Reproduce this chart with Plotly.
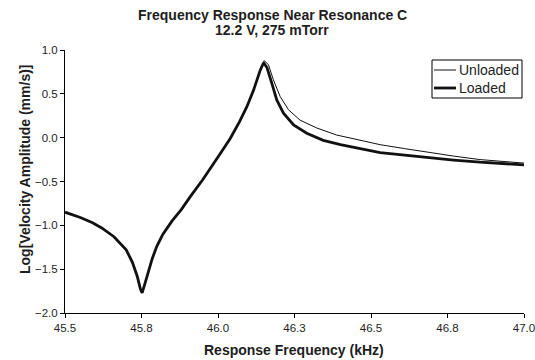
import plotly.graph_objects as go

# Frequencies (kHz) and Log[velocity amplitude]
freq_loaded = [45.50, 45.55, 45.59, 45.62, 45.66, 45.68, 45.70, 45.72, 45.736, 45.746,
               45.752, 45.760, 45.772, 45.785, 45.80, 45.82, 45.85, 45.88, 45.91, 45.95,
               46.00, 46.04, 46.07, 46.094, 46.116, 46.138, 46.149, 46.16, 46.176, 46.192,
               46.214, 46.247, 46.29, 46.344, 46.40, 46.464, 46.53, 46.61, 46.69, 46.77,
               46.856, 46.93, 47.0]
loaded = [-0.85, -0.91, -0.97, -1.03, -1.13, -1.20, -1.28, -1.42, -1.58, -1.72,
          -1.77, -1.68, -1.52, -1.38, -1.24, -1.10, -0.95, -0.82, -0.67, -0.48,
          -0.22, -0.01, 0.18, 0.35, 0.54, 0.77, 0.855, 0.80, 0.62, 0.43,
          0.28, 0.145, 0.05, -0.03, -0.08, -0.12, -0.17, -0.20, -0.23, -0.255,
          -0.28, -0.295, -0.31]

freq_unloaded = [45.50, 45.55, 45.59, 45.62, 45.66, 45.68, 45.70, 45.72, 45.736, 45.746,
                 45.752, 45.760, 45.772, 45.785, 45.80, 45.82, 45.85, 45.88, 45.91, 45.95,
                 46.00, 46.04, 46.07, 46.094, 46.116, 46.138, 46.151, 46.165, 46.181, 46.203,
                 46.23, 46.268, 46.323, 46.388, 46.464, 46.53, 46.61, 46.69, 46.77, 46.856,
                 46.93, 47.0]
unloaded = [-0.85, -0.91, -0.97, -1.03, -1.13, -1.20, -1.28, -1.42, -1.58, -1.72,
            -1.77, -1.68, -1.52, -1.38, -1.24, -1.10, -0.95, -0.82, -0.67, -0.48,
            -0.22, -0.01, 0.18, 0.35, 0.54, 0.77, 0.88, 0.83, 0.66, 0.47,
            0.32, 0.20, 0.11, 0.03, -0.03, -0.08, -0.125, -0.17, -0.21, -0.25,
            -0.27, -0.29]

x_tickvals = [45.5, 45.75, 46.0, 46.25, 46.5, 46.75, 47.0]
x_ticktext = ["45.5", "45.8", "46.0", "46.3", "46.5", "46.8", "47.0"]

series_names = ["Unloaded", "Loaded"]
series_widths = [1, 2.8]

FONT = "Arial, Liberation Sans, sans-serif"
TXT = "#1e1e1e"
W, H = 535, 360
ML, MR, MT, MB = 65, 11, 50, 47
PW, PH = W - ML - MR, H - MT - MB


def px_x(px):
    return (px - ML) / PW


def px_y(py):
    return (H - MB - py) / PH


fig = go.Figure()
fig.add_trace(go.Scatter(x=freq_unloaded, y=unloaded, mode="lines", name=series_names[0],
                         line=dict(color="#111111", width=series_widths[0])))
fig.add_trace(go.Scatter(x=freq_loaded, y=loaded, mode="lines", name=series_names[1],
                         line=dict(color="#111111", width=series_widths[1])))

# legend box drawn by hand to match the compact original
shapes = [dict(type="rect", xref="paper", yref="paper",
               x0=px_x(432), x1=px_x(522), y0=px_y(98), y1=px_y(60),
               line=dict(color="black", width=1), fillcolor="white", layer="above")]
annotations = []
for i, (name, wdt) in enumerate(zip(series_names, series_widths)):
    yy = px_y(70 + i * 18)
    shapes.append(dict(type="line", xref="paper", yref="paper",
                       x0=px_x(434), x1=px_x(456), y0=yy, y1=yy,
                       line=dict(color="#111111", width=wdt), layer="above"))
    annotations.append(dict(text=name, xref="paper", yref="paper", x=px_x(456.5), y=yy,
                            xanchor="left", yanchor="middle", showarrow=False,
                            font=dict(size=14, color=TXT)))

# title lines
annotations.append(dict(text="<b>Frequency Response Near Resonance C</b>",
                        xref="paper", yref="paper", x=px_x(272), y=px_y(15),
                        xanchor="center", yanchor="middle", showarrow=False,
                        font=dict(size=14, color=TXT)))
annotations.append(dict(text="<b>12.2 V, 275 mTorr</b>",
                        xref="paper", yref="paper", x=px_x(272), y=px_y(30),
                        xanchor="center", yanchor="middle", showarrow=False,
                        font=dict(size=14, color=TXT)))
# axis titles
annotations.append(dict(text="<b>Response Frequency (kHz)</b>",
                        xref="paper", yref="paper", x=px_x(294), y=px_y(350),
                        xanchor="center", yanchor="middle", showarrow=False,
                        font=dict(size=14, color=TXT)))
annotations.append(dict(text="<b>Log[Velocity Amplitude (mm/s)]</b>",
                        xref="paper", yref="paper", x=px_x(25), y=px_y(169),
                        xanchor="center", yanchor="middle", showarrow=False,
                        textangle=-90, font=dict(size=14, color=TXT)))

fig.update_layout(
    width=W, height=H,
    margin=dict(l=ML, r=MR, t=MT, b=MB),
    paper_bgcolor="white", plot_bgcolor="white",
    font=dict(family=FONT, color=TXT, size=11.5),
    showlegend=False,
    hovermode=False,
    shapes=shapes,
    annotations=annotations,
)
fig.update_xaxes(range=[45.5, 47.0], tickvals=x_tickvals, ticktext=x_ticktext,
                 showline=True, linecolor="black", linewidth=1,
                 ticks="outside", ticklen=4, tickcolor="black", automargin=False,
                 ticklabeloverflow="allow",
                 showgrid=False, zeroline=False, tickfont=dict(size=11.5))
fig.update_yaxes(range=[-2.0, 1.0], dtick=0.5, tick0=0, tickformat=".1f",
                 showline=True, linecolor="black", linewidth=1,
                 ticks="outside", ticklen=4, tickcolor="black", automargin=False,
                 ticklabeloverflow="allow",
                 showgrid=False, zeroline=False, tickfont=dict(size=11.5))

fig.write_html("out.html", config={"displayModeBar": False, "staticPlot": True},
               post_script="document.body.style.margin='0';document.body.style.overflow='hidden';")
